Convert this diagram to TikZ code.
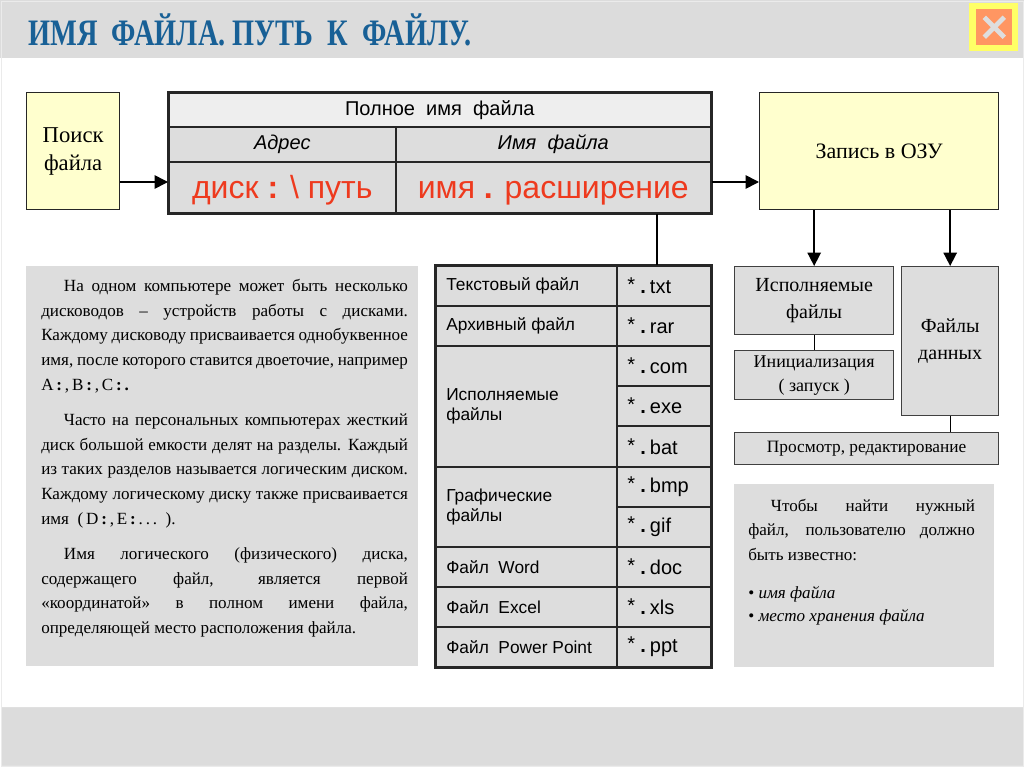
\documentclass[tikz,border=0pt]{standalone}
\usepackage{fontspec}
\setmainfont{Liberation Serif}
\setsansfont{Liberation Sans}
\usetikzlibrary{fit,arrows.meta,calc}
\definecolor{hdrgray}{RGB}{220,220,220}
\definecolor{cellgray}{RGB}{221,221,221}
\definecolor{lightcell}{RGB}{238,238,238}
\definecolor{yellowbox}{RGB}{255,255,206}
\definecolor{titleblue}{RGB}{24,96,150}
\definecolor{redtext}{RGB}{238,58,30}
\definecolor{btnyellow}{RGB}{255,255,102}
\definecolor{btnorange}{RGB}{255,150,98}
\definecolor{xgray}{RGB}{222,222,222}
\tikzset{
  sz/.style 2 args={minimum width={(#1)*0.75pt}, minimum height={(#2)*0.75pt}, anchor=north west},
  box/.style={draw=black!85, line width=1pt, inner sep=0pt, align=center},
  ybox/.style={box, fill=yellowbox},
  gbox/.style={box, fill=cellgray, draw=black!75},
  cell/.style={draw=black!85, line width=1.2pt, fill=cellgray, inner sep=0pt, align=center},
  redcell/.style={cell, text=redtext, font=\sffamily\fontsize{24}{26}\selectfont, text height=20pt, text depth=2.7pt},
  lbl/.style={anchor=west, inner sep=0pt, font=\sffamily\fontsize{13}{15}\selectfont, align=left},
  extt/.style={anchor=west, inner sep=0pt, font=\sffamily\fontsize{15}{16}\selectfont},
  arr/.style={line width=1.2pt, -{Triangle[length=10pt,width=10pt]}},
  conn/.style={line width=1pt},
  panel/.style={fill=cellgray, draw=none, inner sep=0pt}
}
\newcommand\extn[1]{\raisebox{1.5pt}{*}\hspace{4pt}\textbf{.}\hspace{3pt}#1}
\begin{document}
\begin{tikzpicture}[x=0.75pt,y=-0.75pt]
\useasboundingbox (0,0) rectangle (1024,767);
\fill[white] (0,0) rectangle (1024,767);
% header and footer bands
\fill[hdrgray] (0,0) rectangle (1024,58);
\fill[hdrgray] (1,707) rectangle (1023,765);
\draw[black!12, line width=0.6pt] (1,707) rectangle (1023,765);
\draw[black!8, line width=0.6pt] (1,1) rectangle (1023,766);
\node[anchor=west, text=titleblue, inner sep=0pt] (title) at (28,30)
  {\scalebox{0.76}[1]{\fontsize{28}{28}\selectfont\bfseries ИМЯ\ \ ФАЙЛА. ПУТЬ\ \ К\ \ ФАЙЛУ.}};
% close button
\node[fill=btnyellow, inner sep=0pt, sz={49}{48}] (btn) at (969,3) {};
\node[fill=btnorange, inner sep=0pt, sz={36}{36}] (btnin) at (976,9) {};
\draw[xgray, line width=3.6pt] ($(btnin.center)+(-10,-10)$) -- ($(btnin.center)+(10,10)$);
\draw[xgray, line width=3.6pt] ($(btnin.center)+(10,-10)$) -- ($(btnin.center)+(-10,10)$);

% search box
\node[ybox, sz={93}{117}, font=\fontsize{17}{21}\selectfont] (search) at (26,92) {Поиск\\файла};
% full name table
\node[cell, fill=lightcell, sz={542}{34}, font=\sffamily\fontsize{15}{16}\selectfont] (t1) at (168,92) {Полное\ \ имя\ \ файла};
\node[cell, sz={227}{35}, font=\sffamily\itshape\fontsize{15}{16}\selectfont] (t2a) at (168,126) {Адрес};
\node[cell, sz={315}{35}, font=\sffamily\itshape\fontsize{15}{16}\selectfont] (t2b) at (395,126) {Имя\ \ файла};
\node[redcell, sz={227}{51}] (t3a) at (168,161) {диск \textbf{:} \textbackslash{} путь};
\node[redcell, sz={315}{51}] (t3b) at (395,161) {имя \textbf{.} расширение};
\draw[line width=1.6pt, black!85] (t1.north west) rectangle (t3b.south east);
% write to RAM
\node[ybox, sz={239}{117}, font=\fontsize{16.5}{20}\selectfont] (zapis) at (759,92) {Запись в ОЗУ};
\coordinate (ay) at (0,182);
\draw[arr] (search.east |- ay) -- (t3a.west |- ay);
\draw[arr] (t3b.east |- ay) -- (zapis.west |- ay);

% right boxes
\node[gbox, sz={159}{68}, font=\fontsize{15}{20}\selectfont] (exe) at (734,266) {Исполняемые\\файлы};
\node[gbox, sz={159}{49}, font=\fontsize{13.5}{18}\selectfont] (init) at (734,350) {Инициализация\\( запуск )};
\node[gbox, sz={97}{149}, font=\fontsize{15}{20}\selectfont] (data) at (901,266) {Файлы\\данных};
\node[gbox, sz={264}{32}, font=\fontsize{13}{16}\selectfont] (view) at (734,432) {Просмотр, редактирование};
\draw[arr] (zapis.south -| exe.north) -- (exe.north);
\draw[arr] (zapis.south -| data.north) -- (data.north);
\draw[conn] (exe.south) -- (init.north);
\draw[conn] (data.south) -- (view.north -| data.south);

% extension table
\node[cell, sz={181}{40}] (e1a) at (435,265) {};
\node[cell, sz={181}{40}] (e2a) at (435,305) {};
\node[cell, sz={181}{121}] (e3a) at (435,345) {};
\node[cell, sz={181}{80}] (e4a) at (435,466) {};
\node[cell, sz={181}{40}] (e5a) at (435,546) {};
\node[cell, sz={181}{40}] (e6a) at (435,586) {};
\node[cell, sz={181}{40}] (e7a) at (435,626) {};
\node[cell, sz={94}{40}] (x1) at (616,265) {};
\node[cell, sz={94}{40}] (x2) at (616,305) {};
\node[cell, sz={94}{40}] (x3) at (616,345) {};
\node[cell, sz={94}{40}] (x4) at (616,385) {};
\node[cell, sz={94}{41}] (x5) at (616,425) {};
\node[cell, sz={94}{40}] (x6) at (616,466) {};
\node[cell, sz={94}{40}] (x7) at (616,506) {};
\node[cell, sz={94}{40}] (x8) at (616,546) {};
\node[cell, sz={94}{40}] (x9) at (616,586) {};
\node[cell, sz={94}{40}] (x10) at (616,626) {};
\draw[line width=1.6pt, black!85] (e1a.north west) rectangle (x10.south east);
\node[lbl] (l1) at ($(e1a.west)+(11,0)$) {Текстовый файл};
\node[lbl] (l2) at ($(e2a.west)+(11,0)$) {Архивный файл};
\node[lbl] (l3) at ($(e3a.west)+(11,0)$) {Исполняемые\\файлы};
\node[lbl] (l4) at ($(e4a.west)+(11,0)$) {Графические\\файлы};
\node[lbl] (l5) at ($(e5a.west)+(11,0)$) {Файл\ \ Word};
\node[lbl] (l6) at ($(e6a.west)+(11,0)$) {Файл\ \ Excel};
\node[lbl] (l7) at ($(e7a.west)+(11,0)$) {Файл\ \ Power Point};
\node[extt] (s1) at ($(x1.west)+(11,0)$) {\extn{txt}};
\node[extt] (s2) at ($(x2.west)+(11,0)$) {\extn{rar}};
\node[extt] (s3) at ($(x3.west)+(11,0)$) {\extn{com}};
\node[extt] (s4) at ($(x4.west)+(11,0)$) {\extn{exe}};
\node[extt] (s5) at ($(x5.west)+(11,0)$) {\extn{bat}};
\node[extt] (s6) at ($(x6.west)+(11,0)$) {\extn{bmp}};
\node[extt] (s7) at ($(x7.west)+(11,0)$) {\extn{gif}};
\node[extt] (s8) at ($(x8.west)+(11,0)$) {\extn{doc}};
\node[extt] (s9) at ($(x9.west)+(11,0)$) {\extn{xls}};
\node[extt] (s10) at ($(x10.west)+(11,0)$) {\extn{ppt}};
\coordinate (lk) at (657,0);
\draw[conn] (t3b.south -| lk) -- (x1.north -| lk);

% left text panel
\node[panel, sz={392}{400}] (lpanel) at (26,266) {};
\node[anchor=north west, inner sep=0pt, text width=275pt, align=justify,
      font=\fontsize{12.8}{18.5}\selectfont] (ltext) at (41,279) {%
\hspace*{17pt}На одном компьютере может быть несколько\linebreak
дисководов -- устройств работы с дисками.\linebreak
Каждому дисководу присваивается однобуквенное\linebreak
имя, после которого ставится двоеточие, например\linebreak
A\,\textbf{:}\,,\,B\,\textbf{:}\,,\,C\,\textbf{:}\,\textbf{.}\par\vspace{8pt}
\hspace*{17pt}Часто на персональных компьютерах жесткий\linebreak
диск большой емкости делят на разделы. Каждый\linebreak
из таких разделов называется логическим диском.\linebreak
Каждому логическому диску также присваивается\linebreak
имя\ \ (\,D\,\textbf{:}\,,\,E\,\textbf{:}\,.\,.\,.\ \ ).\par\vspace{8pt}
\hspace*{17pt}Имя логического (физического) диска,\linebreak
содержащего файл, является первой\linebreak
«координатой» в полном имени файла,\linebreak
определяющей место расположения файла.\par};

% note panel
\node[panel, sz={260}{183}] (npanel) at (734,484) {};
\node[anchor=north west, inner sep=0pt, text width=170pt, align=justify,
      font=\fontsize{12.8}{18.2}\selectfont] (ntext) at (748,499) {%
\hspace*{17pt}Чтобы найти нужный\linebreak
файл, пользователю должно\linebreak
быть известно:\par\vspace{11pt}
• \textit{имя файла}\par\vspace{-1pt}
• \textit{место хранения файла}\par};
\end{tikzpicture}
\end{document}
